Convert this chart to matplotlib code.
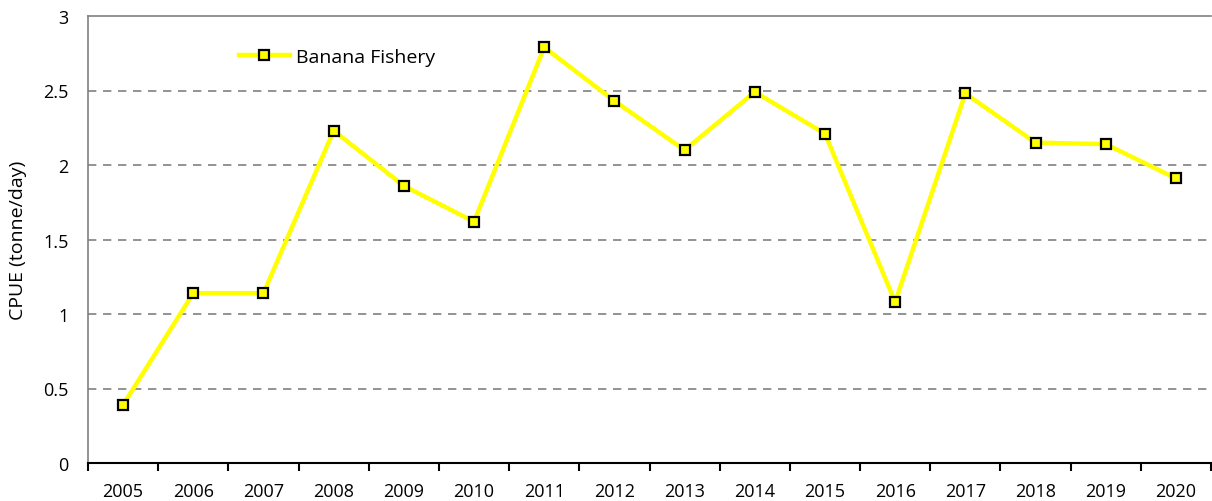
import matplotlib
matplotlib.use("Agg")
import matplotlib.pyplot as plt
import numpy as np

years = ["2005", "2006", "2007", "2008", "2009", "2010", "2011", "2012",
         "2013", "2014", "2015", "2016", "2017", "2018", "2019", "2020"]
cpue = [0.39, 1.14, 1.14, 2.23, 1.86, 1.62, 2.79, 2.43,
        2.10, 2.49, 2.21, 1.08, 2.48, 2.15, 2.14, 1.91]
series_name = "Banana Fishery"
y_ticks = [0, 0.5, 1, 1.5, 2, 2.5, 3]
y_tick_labels = ["0", "0.5", "1", "1.5", "2", "2.5", "3"]

plt.rcParams['font.family'] = ['Open Sans', 'DejaVu Sans']

fig = plt.figure(figsize=(12.12, 5.02), dpi=100)
ax = fig.add_axes([88/1212, 38/502, (1211-88)/1212, (464-17)/502])

x = np.arange(len(years))
ax.plot(x, cpue, color="#FFFF00", lw=3.2, marker="s", markersize=7,
        markerfacecolor="#FFFF00", markeredgecolor="black", markeredgewidth=1.6,
        label=series_name, zorder=3)

ax.set_xlim(-0.5, len(years) - 0.5)
ax.set_ylim(0, 3)
ax.set_yticks(y_ticks)
ax.set_yticklabels(y_tick_labels, fontsize=13)
for v in y_ticks[1:-1]:
    ax.axhline(v, color="#808080", lw=1.2, ls=(0, (5, 4)), zorder=1)

ax.set_xticks(x)
ax.set_xticklabels(years, fontsize=13)
ax.set_xticks(np.arange(-0.5, len(years), 1), minor=True)
ax.tick_params(axis="x", which="major", length=0, pad=14)
ax.tick_params(axis="x", which="minor", length=6, width=1.5, color="black")
ax.tick_params(axis="y", length=0, pad=14)

ax.spines["right"].set_visible(False)
ax.spines["left"].set_color("#808080")
ax.spines["left"].set_linewidth(1.2)
ax.spines["top"].set_color("#808080")
ax.spines["top"].set_linewidth(1.2)
ax.spines["bottom"].set_color("black")
ax.spines["bottom"].set_linewidth(1.5)

ax.set_ylabel("CPUE (tonne/day)", fontsize=14, labelpad=12)

leg = ax.legend(loc="upper left", bbox_to_anchor=(0.119, 0.968), frameon=False,
                fontsize=14, handlelength=2.6, handletextpad=0.3)

fig.savefig("out.png", dpi=100)
